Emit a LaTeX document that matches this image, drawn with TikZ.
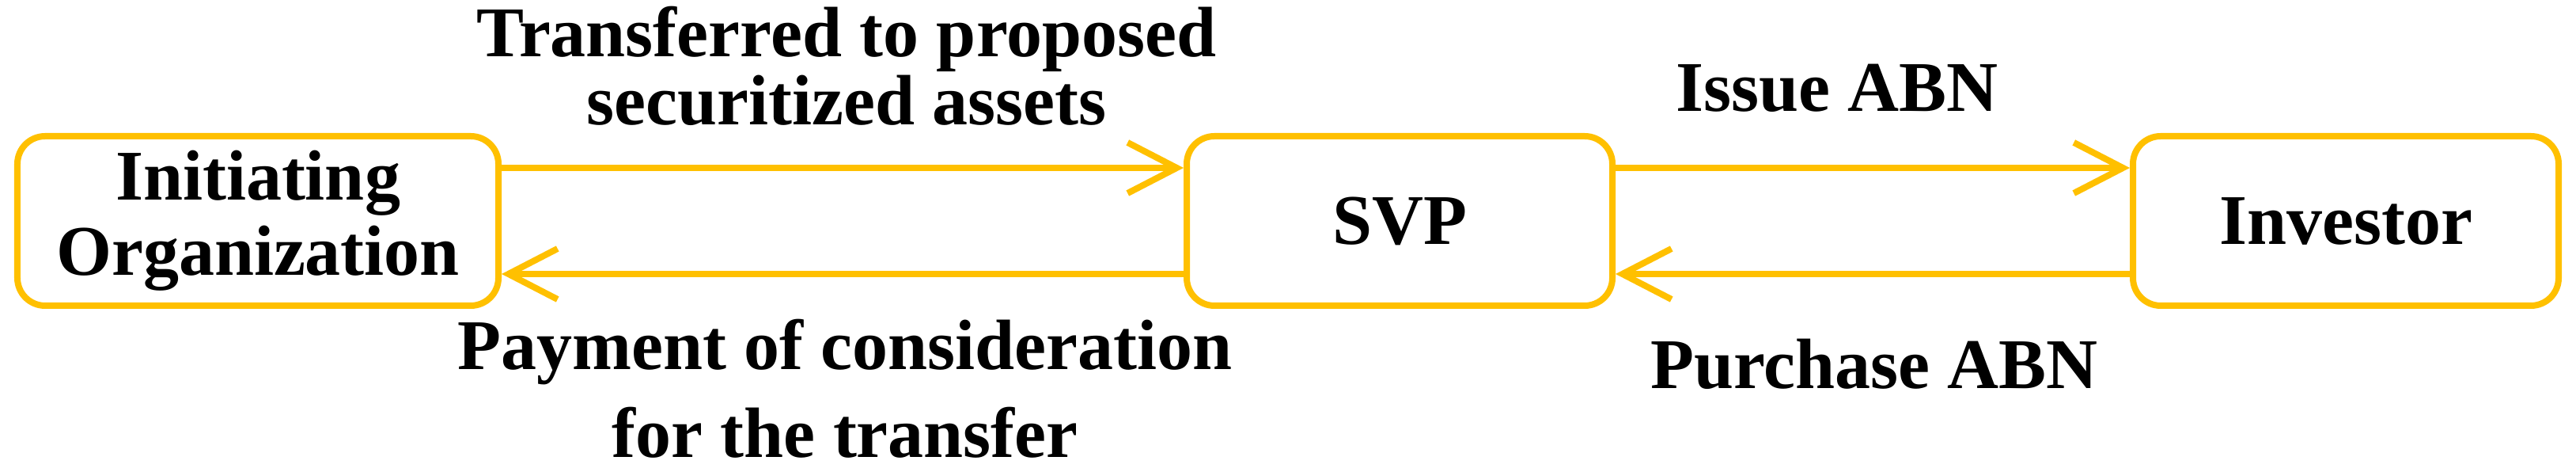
\documentclass[tikz,border=0pt]{standalone}
\usepackage{fontspec}
\setmainfont{Liberation Serif}
\usepackage{tikz}
\usetikzlibrary{arrows.meta}

\definecolor{gold}{HTML}{FFC000}

\begin{document}
\begin{tikzpicture}[
    party/.style={draw=gold,line width=0.08cm,rounded corners=0.35cm,
      minimum height=2.14cm,inner sep=0pt,align=center,
      font=\fontsize{25.6}{27}\selectfont\bfseries},
    flow/.style={draw=gold,line width=0.08cm,
      -{Straight Barb[length=0.62cm,width=0.64cm]}},
    lbl/.style={anchor=base,align=center,inner sep=0pt}
  ]
    % Frame
    \useasboundingbox (0,0) rectangle (32.56,-5.96);

    % Parties
    \node[party,minimum width=6.08cm] (init) at (3.26,-2.79) {Initiating\\Organization};
    \node[party,minimum width=5.38cm] (svp) at (17.69,-2.79) {SVP};
    \node[party,minimum width=5.38cm] (inv) at (29.65,-2.79) {Investor};

    % Flows between the parties
    \draw[flow] ([yshift=0.67cm]init.east) -- ([yshift=0.67cm]svp.west);
    \draw[flow] ([yshift=-0.67cm]svp.west) -- ([yshift=-0.67cm]init.east);
    \draw[flow] ([yshift=0.67cm]svp.east) -- ([yshift=0.67cm]inv.west);
    \draw[flow] ([yshift=-0.67cm]inv.west) -- ([yshift=-0.67cm]svp.east);

    % Flow labels
    \node[lbl,font=\fontsize{25.6}{24.5}\selectfont\bfseries] (transfer) at (10.70,-1.58)
      {Transferred to proposed\\securitized assets};
    \node[lbl,font=\fontsize{25.6}{31.6}\selectfont\bfseries] (payment) at (10.68,-5.78)
      {Payment of consideration\\for the transfer};
    \node[lbl,font=\fontsize{25.6}{27}\selectfont\bfseries] (issue) at (23.22,-1.41) {Issue ABN};
    \node[lbl,font=\fontsize{25.6}{27}\selectfont\bfseries] (purchase) at (23.69,-4.91) {Purchase ABN};
\end{tikzpicture}
\end{document}
